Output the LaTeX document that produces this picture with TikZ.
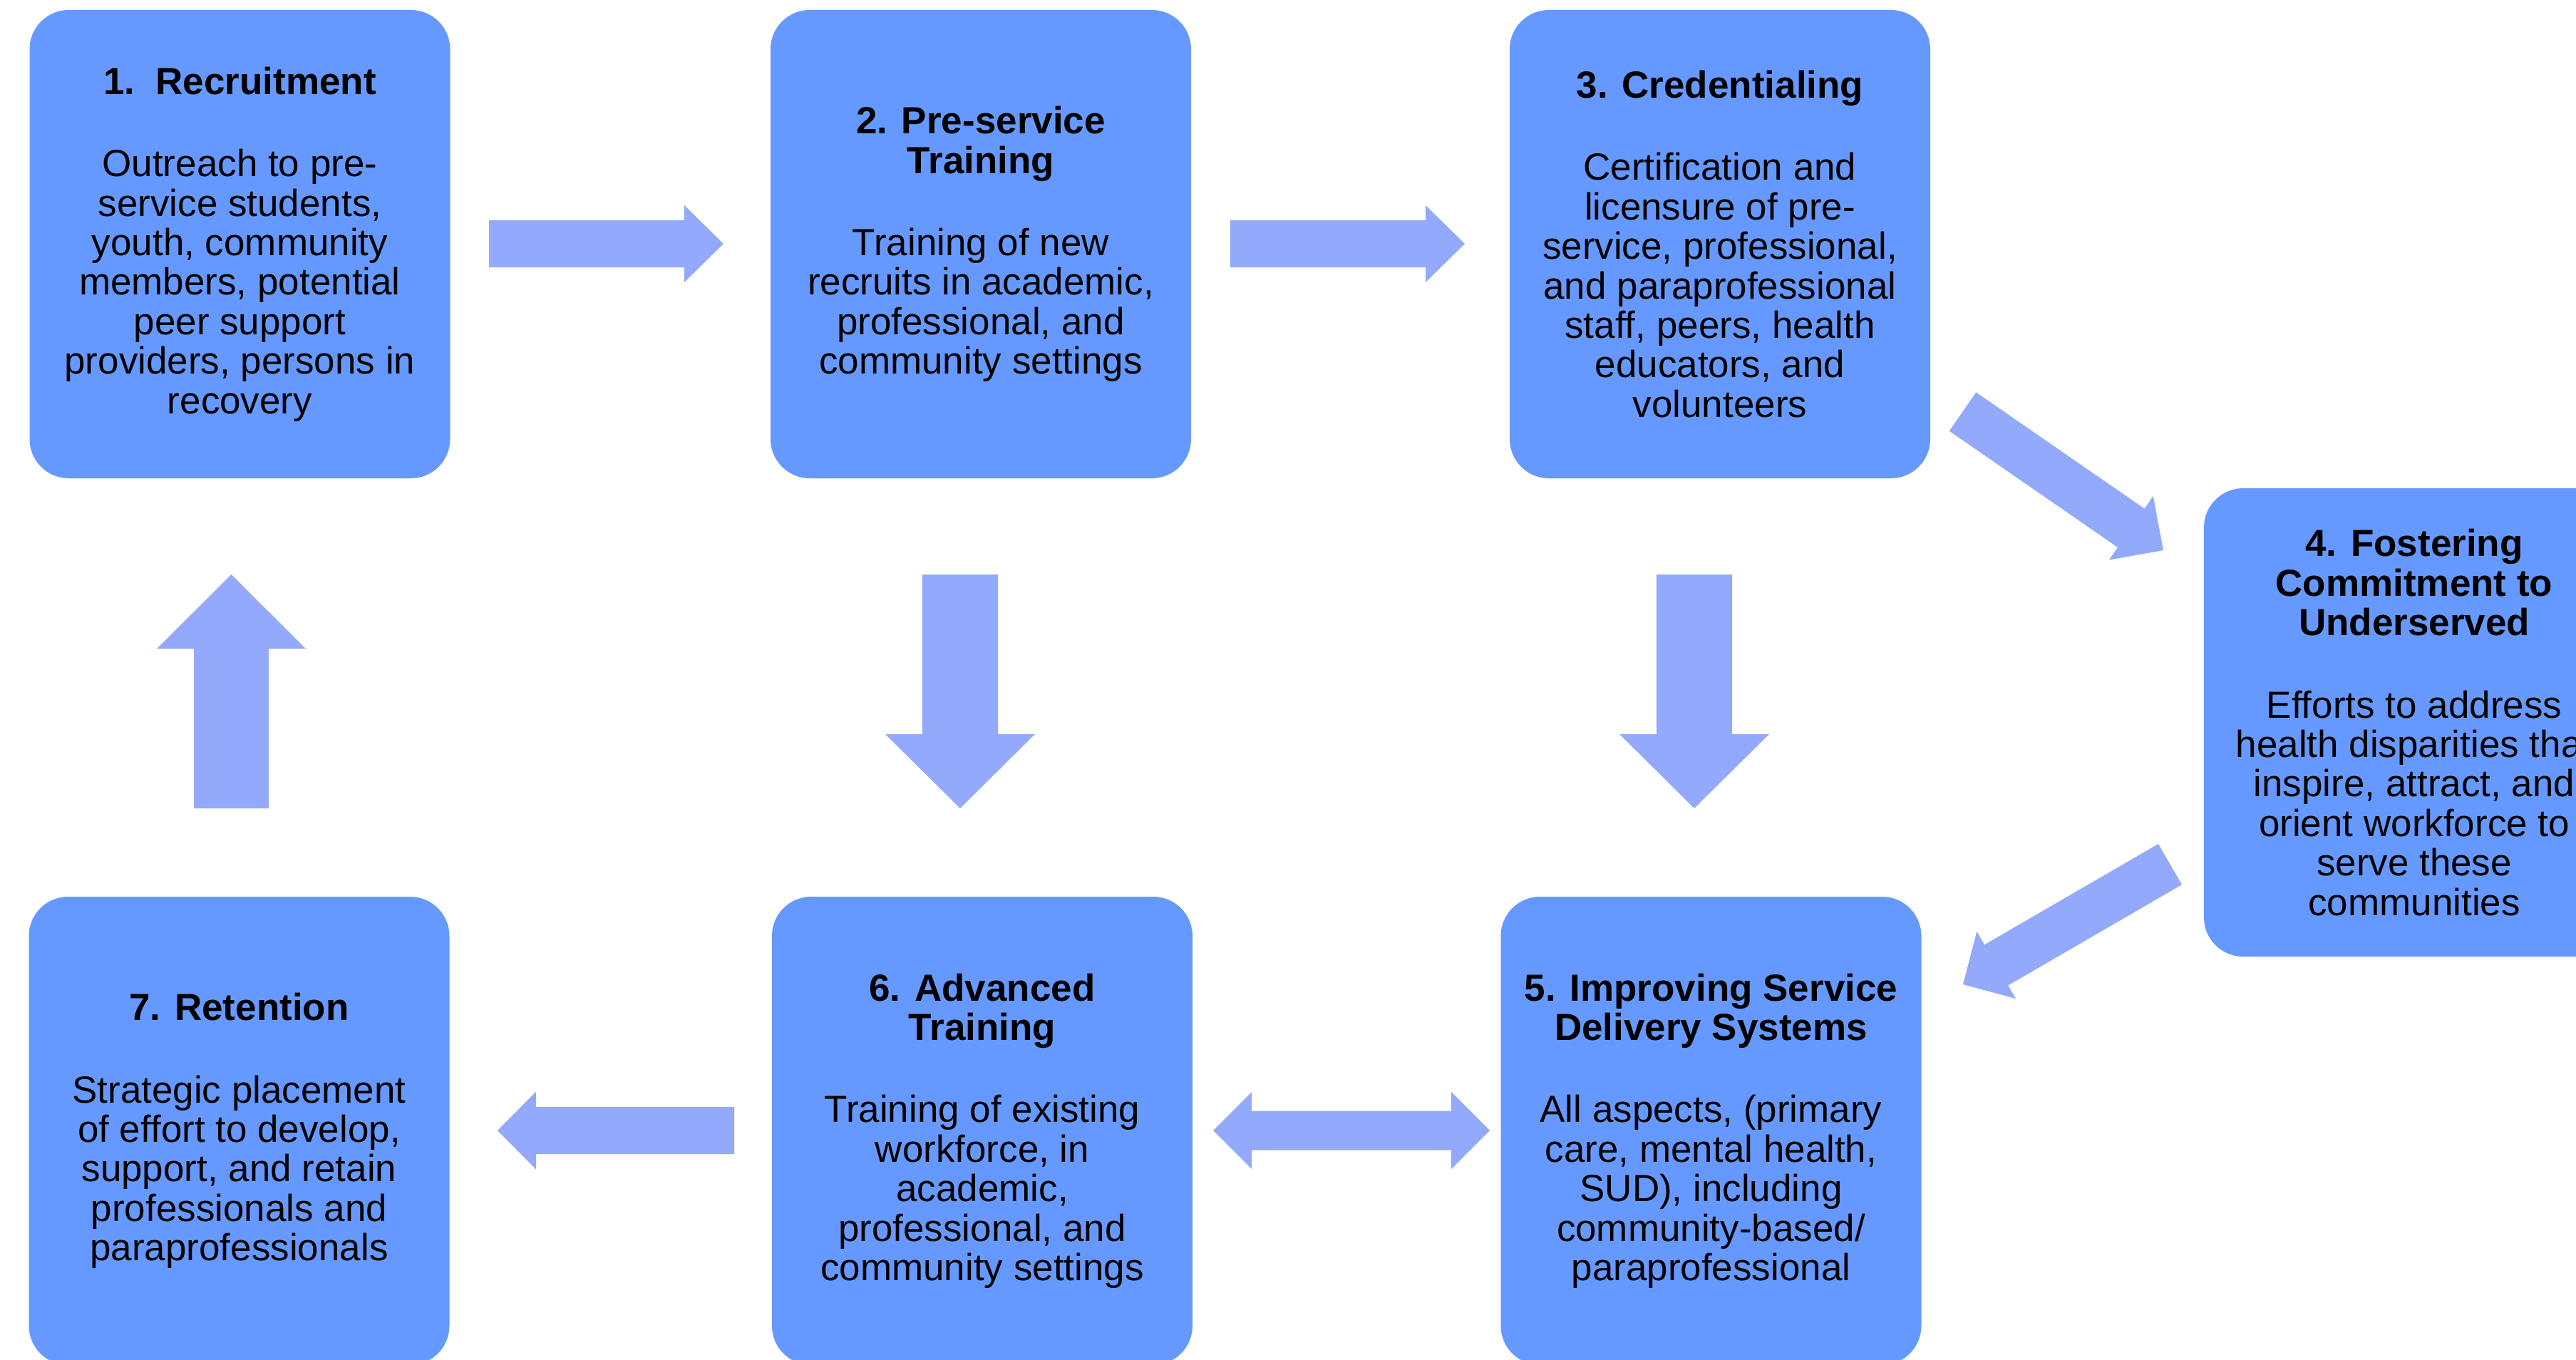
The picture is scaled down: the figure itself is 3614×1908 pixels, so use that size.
\documentclass[tikz,border=0pt]{standalone}
\usepackage{fontspec}
\setmainfont{Liberation Sans}
\usetikzlibrary{calc}
\definecolor{boxblue}{RGB}{102,153,255}
\definecolor{arrblue}{RGB}{147,169,252}
\newlength\titlegap
\setlength\titlegap{60pt}
\tikzset{
  box/.style={fill=boxblue, rounded corners=55pt, minimum width=590pt, minimum height=657pt,
    inner sep=0pt, align=center, text=black, font=\fontsize{53}{55.4}\selectfont},
  arrowfill/.style={fill=arrblue}
}
% single block arrow: #1 tail, #2 tip, #3 shaft half width, #4 head half width, #5 head length
\newcommand\blockarr[5]{%
  \coordinate (ha) at ($(#2)!#5!(#1)$);
  \fill[arrowfill] ($(#1)!#3!90:(#2)$) -- ($(ha)!#3!90:(#2)$) -- ($(ha)!#4!90:(#2)$) -- (#2)
    -- ($(ha)!#4!-90:(#2)$) -- ($(ha)!#3!-90:(#2)$) -- ($(#1)!#3!-90:(#2)$) -- cycle;
}
% double block arrow
\newcommand\dblarr[5]{%
  \coordinate (ha) at ($(#1)!#5!(#2)$);
  \coordinate (hb) at ($(#2)!#5!(#1)$);
  \fill[arrowfill] (#1) -- ($(ha)!#4!90:(#2)$) -- ($(ha)!#3!90:(#2)$) -- ($(hb)!#3!90:(#2)$)
    -- ($(hb)!#4!90:(#2)$) -- (#2) -- ($(hb)!#4!-90:(#2)$) -- ($(hb)!#3!-90:(#2)$)
    -- ($(ha)!#3!-90:(#2)$) -- ($(ha)!#4!-90:(#2)$) -- cycle;
}
\begin{document}
\begin{tikzpicture}[x=1pt,y=-1pt]
\useasboundingbox (0,0) rectangle (3614,1908);
\clip (0,0) rectangle (3614,1908);
\fill[white] (0,0) rectangle (3614,1908);

\node[box] (b1) at (336.5,342.5) {\textbf{1.~\ Recruitment}\\[\titlegap]
  Outreach to pre-\\service students,\\youth, community\\members, potential\\peer support\\providers, persons in\\recovery};
\node[box] (b2) at (1376,342.5) {\textbf{2. Pre-service}\\\textbf{Training}\\[\titlegap]
  Training of new\\recruits in academic,\\professional, and\\community settings};
\node[box] (b3) at (2413,342.5) {\textbf{3. Credentialing}\\[\titlegap]
  Certification and\\licensure of pre-\\service, professional,\\and paraprofessional\\staff, peers, health\\educators, and\\volunteers};
\node[box] (b4) at (3387,1013.5) {\textbf{4. Fostering}\\\textbf{Commitment to}\\\textbf{Underserved}\\[\titlegap]
  Efforts to address\\health disparities that\\inspire, attract, and\\orient workforce to\\serve these\\communities};
\node[box] (b5) at (2400.5,1586.5) {\textbf{5. Improving Service}\\\textbf{Delivery Systems}\\[\titlegap]
  All aspects, (primary\\care, mental health,\\SUD), including\\community-based/\\paraprofessional};
\node[box] (b6) at (1378,1586.5) {\textbf{6. Advanced}\\\textbf{Training}\\[\titlegap]
  Training of existing\\workforce, in\\academic,\\professional, and\\community settings};
\node[box] (b7) at (335.5,1586.5) {\textbf{7. Retention}\\[\titlegap]
  Strategic placement\\of effort to develop,\\support, and retain\\professionals and\\paraprofessionals};

% arrow end points
\coordinate (a1s) at (686,342);    \coordinate (a1e) at (1015,342);
\coordinate (a2s) at (1726,342);   \coordinate (a2e) at (2055,342);
\coordinate (a3s) at (2753.5,577.5); \coordinate (a3e) at (3035,772);
\coordinate (a4s) at (3044.5,1212.5); \coordinate (a4e) at (2754,1381);
\coordinate (a5s) at (1347,806);   \coordinate (a5e) at (1347,1134);
\coordinate (a6s) at (2377,806);   \coordinate (a6e) at (2377,1134);
\coordinate (a7s) at (1702,1586);  \coordinate (a7e) at (2090,1586);
\coordinate (a8s) at (1030,1586);  \coordinate (a8e) at (698,1586);
\coordinate (a9s) at (324.5,1134); \coordinate (a9e) at (324.5,806);

\blockarr{a1s}{a1e}{33pt}{54pt}{55pt}
\blockarr{a2s}{a2e}{33pt}{54pt}{55pt}
\blockarr{a3s}{a3e}{33pt}{54.5pt}{55pt}
\blockarr{a4s}{a4e}{33pt}{54.5pt}{54pt}
\blockarr{a5s}{a5e}{53pt}{105pt}{104pt}
\blockarr{a6s}{a6e}{53pt}{105pt}{104pt}
\dblarr{a7s}{a7e}{27.5pt}{54pt}{54pt}
\blockarr{a8s}{a8e}{33pt}{54.5pt}{54pt}
\blockarr{a9s}{a9e}{52.5pt}{104.5pt}{104pt}
\end{tikzpicture}
\end{document}
